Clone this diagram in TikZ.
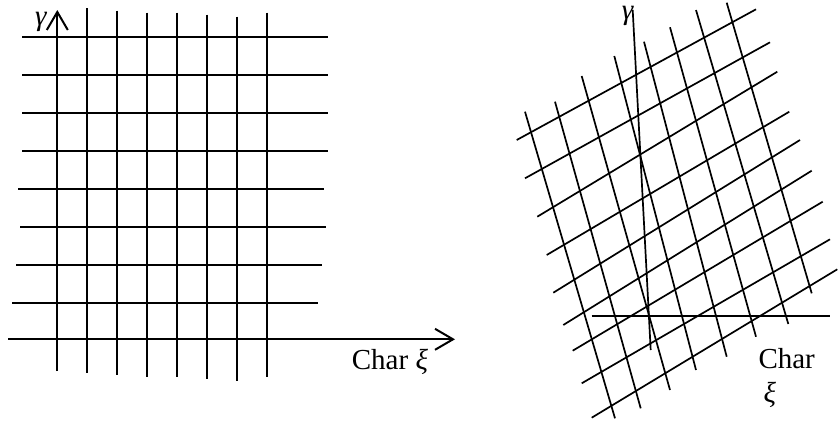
\documentclass[tikz,border=0pt]{standalone}
\usepackage{fontspec}
\setmainfont{Liberation Serif}
\usetikzlibrary{arrows.meta}

\begin{document}
\begin{tikzpicture}[
    x=1pt, y=-1pt,
    font=\fontsize{29}{32}\selectfont,
    gridline/.style={line width=2pt},
    skewline/.style={line width=1.7pt},
    axisline/.style={line width=2pt, -{Straight Barb[length=18pt, width=21pt, line width=2pt]}},
    lbl/.style={inner sep=0pt, anchor=base west}
]
\useasboundingbox (0,0) rectangle (838,421);

\coordinate (gyL0) at (57.3,371); \coordinate (gyL1) at (57.3,10);
\coordinate (chL0) at (8.3,339.3); \coordinate (chL1) at (455,339.3);
\coordinate (gyR0) at (650.7,350); \coordinate (gyR1) at (632.7,10);
\coordinate (chR0) at (591.7,316); \coordinate (chR1) at (830,316);

\draw[gridline] (22.3,36.7) -- (327.7,36.7); \draw[gridline] (22.3,75) -- (327.7,75); \draw[gridline] (22.3,113) -- (327.7,113); \draw[gridline] (22.3,151) -- (327.7,151);
\draw[gridline] (18.3,189) -- (323.7,189); \draw[gridline] (20.3,227) -- (325.7,227); \draw[gridline] (16.3,265) -- (321.7,265); \draw[gridline] (12.3,303) -- (317.7,303);
\draw[gridline] (87.3,8.3) -- (87.3,373); \draw[gridline] (117,10.7) -- (117,375); \draw[gridline] (147,12.7) -- (147,377); \draw[gridline] (177,12.7) -- (177,377);
\draw[gridline] (207,14.7) -- (207,379); \draw[gridline] (237,16.7) -- (237,381); \draw[gridline] (267,12.7) -- (267,377);
\draw[axisline] (gyL0) -- (gyL1); \draw[axisline] (chL0) -- (chL1);

\node[lbl] (gammaL) at (35,25) {\textit{γ}};
\node[lbl] (charL) at (351.7,369.3) {Char \textit{ξ}};

\draw[skewline] (516.7,140) -- (756,9.3); \draw[skewline] (525,178.3) -- (770,42.3); \draw[skewline] (537.3,216.7) -- (777.3,71.7);
\draw[skewline] (546.7,255) -- (789.3,111.7); \draw[skewline] (553.3,292.7) -- (800,140); \draw[skewline] (563.3,325) -- (811.7,170.7);
\draw[skewline] (572.7,350.7) -- (822.7,201.7); \draw[skewline] (581.7,383.3) -- (830,239.3); \draw[skewline] (591.7,417.7) -- (837.3,269.3);
\draw[skewline] (525,111.7) -- (615,418.3); \draw[skewline] (555,101.7) -- (640.7,408.3); \draw[skewline] (581.7,76) -- (670,390); \draw[skewline] (614.3,56) -- (696,370);
\draw[skewline] (644,41.7) -- (726.7,356.7); \draw[skewline] (670,27.3) -- (756,336.7); \draw[skewline] (696,10) -- (788.3,324); \draw[skewline] (726.7,2.7) -- (811.7,293.3);
\draw[skewline] (gyR0) -- (gyR1); \draw[skewline] (chR0) -- (chR1);

\node[lbl] (gammaR) at (621.7,19) {\textit{γ}};
\node[lbl] (charR) at (758.3,368.3) {Char};
\node[lbl] (xiR) at (763.3,402.7) {\textit{ξ}};
\end{tikzpicture}
\end{document}
